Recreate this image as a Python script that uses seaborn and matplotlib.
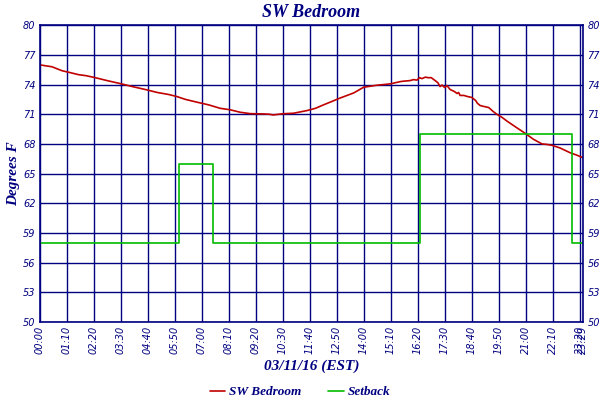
import matplotlib
matplotlib.use("Agg")
import matplotlib.pyplot as plt
import seaborn as sns
import pandas as pd

# minutes after midnight and room temperature (deg F)
temp_minutes = [0, 15, 32, 45, 58, 80, 101, 120, 144, 175, 209, 240, 274, 305,
                334, 355, 378, 410, 438, 468, 494, 520, 546, 580, 595, 606, 630,
                658, 693, 715, 736, 758, 779, 814, 840, 874, 909, 935, 943, 960,
                969, 978, 985, 991, 1000, 1008, 1015, 1025, 1032, 1038, 1043,
                1050, 1056, 1064, 1075, 1082, 1086, 1090, 1100, 1108, 1120, 1130,
                1135, 1142, 1150, 1164, 1175, 1185, 1198, 1211, 1237, 1259, 1280,
                1302, 1315, 1328, 1349, 1375, 1390, 1409]
temp_values = [76.0, 75.9, 75.8, 75.6, 75.4, 75.2, 75.0, 74.9, 74.7, 74.4, 74.1,
               73.8, 73.5, 73.2, 73.0, 72.8, 72.5, 72.2, 71.95, 71.6, 71.45, 71.2,
               71.06, 71.03, 71.0, 70.93, 71.05, 71.1, 71.37, 71.6, 71.95, 72.3,
               72.64, 73.15, 73.73, 73.93, 74.07, 74.3, 74.34, 74.4, 74.5, 74.45,
               74.7, 74.6, 74.75, 74.69, 74.7, 74.41, 74.2, 73.8, 73.95, 73.7,
               73.9, 73.5, 73.3, 73.1, 73.2, 72.9, 72.9, 72.8, 72.7, 72.4, 72.1,
               71.88, 71.8, 71.68, 71.3, 71.0, 70.7, 70.32, 69.63, 69.06, 68.47,
               68.0, 67.95, 67.86, 67.59, 67.11, 66.9, 66.6]

# thermostat setback schedule
setback_minutes = [0, 361, 450, 986, 1380, 1409]
setback_values = [58, 66, 58, 69, 58, 58]

x_ticks = list(range(0, 1401, 70)) + [1409]
x_labels = ["%02d:%02d" % (m // 60, m % 60) for m in x_ticks]
y_ticks = list(range(50, 81, 3))

navy = "#000080"

sns.set_style("white")
plt.rcParams["font.family"] = ["DejaVu Sans"]

temp_df = pd.DataFrame({"minute": temp_minutes, "temp": temp_values})
setback_df = pd.DataFrame({"minute": setback_minutes, "temp": setback_values})

fig = plt.figure(figsize=(6, 4), dpi=100)
ax = fig.add_axes([0.066, 0.195, 0.906, 0.742])

sns.lineplot(data=temp_df, x="minute", y="temp", ax=ax, color="#C00000",
             linewidth=1.2, label="SW Bedroom")
sns.lineplot(data=setback_df, x="minute", y="temp", ax=ax, color="#00BB00",
             linewidth=1.2, drawstyle="steps-post", label="Setback")

ax.set_xlim(0, 1409)
ax.set_ylim(50, 80)
ax.set_xticks(x_ticks)
ax.set_xticklabels(x_labels, rotation=90, fontsize=7, style="italic", color=navy)
ax.set_yticks(y_ticks)
ax.set_yticklabels([str(v) for v in y_ticks], fontsize=7, style="italic", color=navy)
ax.tick_params(length=0, pad=3, labelright=True)
ax.grid(True, color=navy, linewidth=1.0)
for s in ax.spines.values():
    s.set_color(navy)
    s.set_linewidth(1.2)

serif = ["Liberation Serif", "DejaVu Serif"]
ax.set_title("SW Bedroom", fontsize=13, fontweight="bold", style="italic",
             color=navy, family=serif, pad=6)
ax.set_xlabel("03/11/16 (EST)", fontsize=11, fontweight="bold", style="italic",
              color=navy, family=serif, labelpad=4)
ax.set_ylabel("Degrees F", fontsize=11, fontweight="bold", style="italic",
              color=navy, family=serif, labelpad=2)

ax.get_legend().remove()
handles, labels = ax.get_legend_handles_labels()
fig.legend(handles, labels, loc="lower center", bbox_to_anchor=(0.5, -0.025),
           ncol=2, frameon=False, handlelength=1.2, handletextpad=0.3,
           columnspacing=2.0,
           prop={"family": serif, "weight": "bold", "style": "italic", "size": 9.5},
           labelcolor=navy)

fig.savefig("out.png", dpi=100)
